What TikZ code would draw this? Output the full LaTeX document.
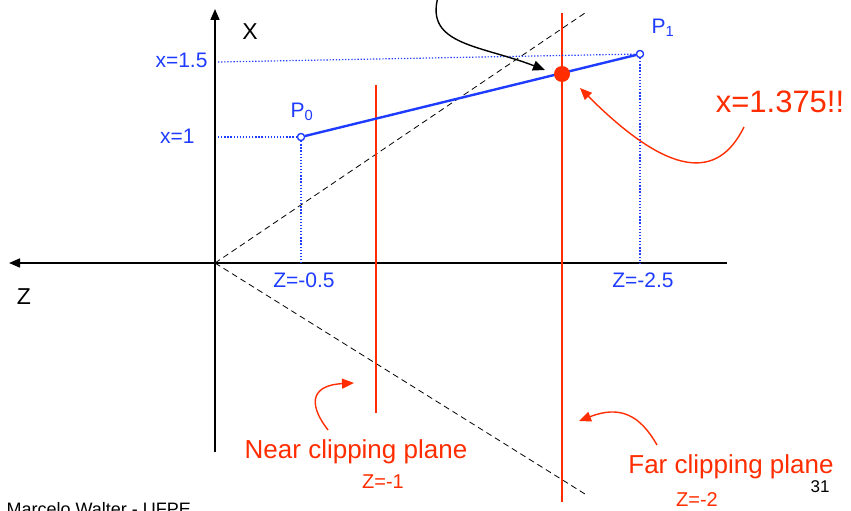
\documentclass[tikz,border=0pt]{standalone}
\usepackage{fontspec}
\setmainfont{Liberation Sans}
\usetikzlibrary{arrows.meta}
\definecolor{ptblue}{RGB}{30,60,255}
\definecolor{clipred}{RGB}{255,45,0}

\begin{document}
\begin{tikzpicture}[x=1pt,y=-1pt,
  pt/.style={circle,draw=ptblue,fill=white,line width=1.2pt,inner sep=0pt,minimum size=7pt},
  bluelbl/.style={text=ptblue,font=\fontsize{21}{24}\selectfont},
  redlbl/.style={text=clipred,font=\fontsize{26}{30}\selectfont},
  guide/.style={ptblue,line width=1.2pt,dash pattern=on 1.3pt off 1.8pt},
  plane/.style={clipred,line width=1.6pt},
  viewline/.style={line width=0.8pt,dash pattern=on 6pt off 4pt},
  callout/.style={line width=1.4pt,-{Triangle[length=12pt,width=10pt]}}]

  \useasboundingbox (0,0) rectangle (851,511);

  % Axes
  \coordinate (O) at (215,263);
  \coordinate (Xtop) at (215,9);
  \coordinate (Xbot) at (215,452);
  \coordinate (Zleft) at (9,263);
  \coordinate (Zright) at (727,263);
  \draw[line width=1.6pt,-{Triangle[length=11pt,width=9pt]}] (Xbot) -- (Xtop);
  \draw[line width=1.6pt,-{Triangle[length=11pt,width=9pt]}] (Zright) -- (Zleft);
  \node[font=\fontsize{23}{25}\selectfont] (xlbl) at (250,32) {X};
  \node[font=\fontsize{23}{25}\selectfont] (zlbl) at (24,297) {Z};

  % View volume
  \coordinate (Vup) at (585,13);
  \coordinate (Vdown) at (585,494);
  \draw[viewline] (O) -- (Vup);
  \draw[viewline] (O) -- (Vdown);

  % Clipping planes
  \coordinate (Ntop) at (376,85);
  \coordinate (Nbot) at (376,413);
  \coordinate (Ftop) at (562,13);
  \coordinate (Fbot) at (562,502);
  \draw[plane] (Ntop) -- (Nbot);
  \draw[plane] (Ftop) -- (Fbot);

  % Points and guides
  \node[pt] (P0) at (301,137) {};
  \node[pt] (P1) at (640,54) {};
  \coordinate (P0x) at (218,137);
  \coordinate (P0z) at (301,263);
  \coordinate (P1x) at (218,62);
  \coordinate (P1z) at (640,263);
  \draw[guide] (P0x) -- (P0);
  \draw[guide] (P0) -- (P0z);
  \draw[guide] (P1x) -- (P1);
  \draw[guide] (P1) -- (P1z);
  \draw[ptblue,line width=2.4pt] (P0) -- (P1);
  \node[pt] at (P0) {};
  \node[pt] at (P1) {};
  \node[bluelbl] (p0lbl) at (302,112) {P\textsubscript{0}};
  \node[bluelbl] (p1lbl) at (663,28) {P\textsubscript{1}};
  \node[bluelbl,anchor=east] (x15) at (211,60) {x=1.5};
  \node[bluelbl,anchor=east] (x1) at (198,136) {x=1};
  \node[bluelbl] (z05) at (304,280) {Z=-0.5};
  \node[bluelbl] (z25) at (643,280) {Z=-2.5};

  % Intersection
  \node[circle,fill=clipred,inner sep=0pt,minimum size=16pt] (hit) at (562,74) {};
  \coordinate (cstart) at (438,-3);
  \draw[callout] (cstart) .. controls (425,45) and (480,45) .. (545,70);
  \node[redlbl,font=\fontsize{31}{34}\selectfont] (val) at (780,102) {x=1.375!!};
  \coordinate (vstart) at (744,127);
  \draw[callout,clipred] (vstart) .. controls (718,180) and (670,178) .. (580,88);

  % Plane labels
  \node[redlbl] (near) at (356,452) {Near clipping plane};
  \node[text=clipred,font=\fontsize{20}{22}\selectfont] (zn) at (383,482) {Z=-1};
  \coordinate (nstart) at (328,430);
  \draw[callout,clipred] (nstart) .. controls (305,400) and (315,385) .. (354,383);
  \node[redlbl] (far) at (731,467) {Far clipping plane};
  \node[text=clipred,font=\fontsize{20}{22}\selectfont] (zf) at (697,500) {Z=-2};
  \coordinate (fstart) at (657,445);
  \draw[callout,clipred] (fstart) .. controls (640,415) and (620,405) .. (579,421);

  % Footer
  \node[font=\fontsize{17}{20}\selectfont] (page) at (820,487) {31};
  \node[anchor=north west,font=\fontsize{18}{20}\selectfont] (author) at (3,499) {Marcelo Walter - UFPE};

\end{tikzpicture}
\end{document}
